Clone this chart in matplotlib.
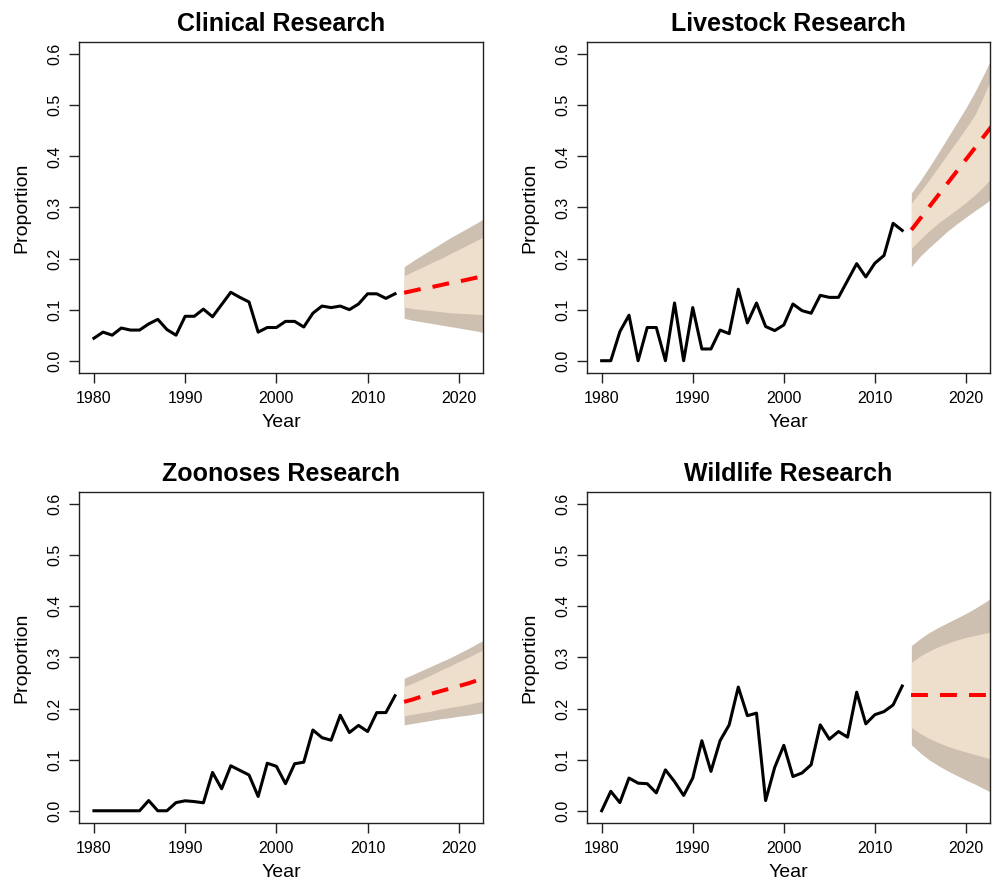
import numpy as np
import matplotlib
matplotlib.use("Agg")
import matplotlib.pyplot as plt

plt.rcParams['font.family'] = ['Liberation Sans', 'DejaVu Sans']

# anos observados e anos da previsao
anos = list(range(1980, 2014))
anos_prev = list(range(2014, 2024))

# --- valores observados (proporcao) ---
clinical = [0.044, 0.056, 0.050, 0.064, 0.060, 0.060, 0.072, 0.081, 0.061, 0.050,
            0.087, 0.087, 0.101, 0.086, 0.110, 0.134, 0.124, 0.115, 0.056, 0.065,
            0.065, 0.077, 0.077, 0.066, 0.093, 0.107, 0.104, 0.107, 0.100, 0.111,
            0.131, 0.131, 0.122, 0.131]
livestock = [0.000, 0.000, 0.057, 0.089, 0.000, 0.065, 0.065, 0.000, 0.113, 0.000,
             0.104, 0.023, 0.023, 0.060, 0.053, 0.140, 0.074, 0.113, 0.067, 0.059,
             0.070, 0.111, 0.098, 0.093, 0.128, 0.124, 0.124, 0.157, 0.190, 0.164,
             0.191, 0.206, 0.269, 0.255]
zoonoses = [0.000, 0.000, 0.000, 0.000, 0.000, 0.000, 0.020, 0.000, 0.000, 0.016,
            0.0195, 0.018, 0.0156, 0.075, 0.043, 0.088, 0.079, 0.070, 0.028, 0.093,
            0.087, 0.053, 0.092, 0.095, 0.158, 0.143, 0.138, 0.187, 0.153, 0.167,
            0.155, 0.192, 0.192, 0.225]
wildlife = [0.000, 0.038, 0.016, 0.064, 0.054, 0.053, 0.035, 0.080, 0.057, 0.030,
            0.064, 0.137, 0.077, 0.137, 0.168, 0.242, 0.186, 0.191, 0.020, 0.085,
            0.128, 0.067, 0.074, 0.090, 0.168, 0.140, 0.155, 0.144, 0.232, 0.170,
            0.188, 0.194, 0.207, 0.244]

# --- previsoes: media, intervalos 80% e 95% ---
clinical_media = [0.133, 0.137, 0.141, 0.144, 0.148, 0.152, 0.155, 0.159, 0.163, 0.167]
clinical_hi95 = [0.184, 0.196, 0.207, 0.218, 0.229, 0.240, 0.250, 0.260, 0.270, 0.281]
clinical_hi80 = [0.166, 0.175, 0.183, 0.192, 0.200, 0.209, 0.218, 0.227, 0.236, 0.245]
clinical_lo80 = [0.105, 0.102, 0.100, 0.098, 0.096, 0.094, 0.093, 0.092, 0.091, 0.090]
clinical_lo95 = [0.083, 0.079, 0.076, 0.073, 0.070, 0.067, 0.064, 0.061, 0.058, 0.054]

livestock_media = [0.256, 0.279, 0.302, 0.325, 0.348, 0.371, 0.394, 0.417, 0.440, 0.463]
livestock_hi95 = [0.328, 0.353, 0.380, 0.408, 0.437, 0.466, 0.495, 0.527, 0.562, 0.600]
livestock_hi80 = [0.308, 0.331, 0.355, 0.380, 0.405, 0.430, 0.455, 0.482, 0.520, 0.562]
livestock_lo80 = [0.220, 0.238, 0.255, 0.270, 0.283, 0.296, 0.310, 0.325, 0.342, 0.362]
livestock_lo95 = [0.184, 0.205, 0.222, 0.238, 0.254, 0.268, 0.281, 0.294, 0.306, 0.320]

zoonoses_media = [0.213, 0.218, 0.224, 0.229, 0.234, 0.239, 0.244, 0.249, 0.255, 0.260]
zoonoses_hi95 = [0.259, 0.267, 0.275, 0.283, 0.291, 0.299, 0.308, 0.317, 0.327, 0.336]
zoonoses_hi80 = [0.243, 0.250, 0.258, 0.266, 0.275, 0.283, 0.292, 0.300, 0.309, 0.317]
zoonoses_lo80 = [0.186, 0.189, 0.192, 0.195, 0.199, 0.202, 0.205, 0.208, 0.212, 0.215]
zoonoses_lo95 = [0.168, 0.171, 0.174, 0.177, 0.180, 0.182, 0.185, 0.187, 0.190, 0.192]

wildlife_media = [0.227, 0.227, 0.227, 0.227, 0.227, 0.227, 0.227, 0.227, 0.227, 0.227]
wildlife_hi95 = [0.323, 0.337, 0.349, 0.359, 0.368, 0.377, 0.386, 0.396, 0.407, 0.419]
wildlife_hi80 = [0.290, 0.303, 0.313, 0.321, 0.328, 0.334, 0.339, 0.343, 0.347, 0.351]
wildlife_lo80 = [0.163, 0.151, 0.141, 0.133, 0.126, 0.120, 0.115, 0.110, 0.105, 0.100]
wildlife_lo95 = [0.129, 0.113, 0.099, 0.088, 0.078, 0.069, 0.060, 0.052, 0.043, 0.034]

titulos = ["Clinical Research", "Livestock Research", "Zoonoses Research", "Wildlife Research"]
xticks = [1980, 1990, 2000, 2010, 2020]
yticks = [0.0, 0.1, 0.2, 0.3, 0.4, 0.5, 0.6]

paineis = [
    (clinical, clinical_media, clinical_lo80, clinical_hi80, clinical_lo95, clinical_hi95),
    (livestock, livestock_media, livestock_lo80, livestock_hi80, livestock_lo95, livestock_hi95),
    (zoonoses, zoonoses_media, zoonoses_lo80, zoonoses_hi80, zoonoses_lo95, zoonoses_hi95),
    (wildlife, wildlife_media, wildlife_lo80, wildlife_hi80, wildlife_lo95, wildlife_hi95),
]

# posicoes dos eixos [esq, baixo, larg, alt]
posicoes = [
    [0.0792, 0.5776, 0.4052, 0.3749],
    [0.5885, 0.5776, 0.4045, 0.3749],
    [0.0792, 0.0679, 0.4052, 0.3752],
    [0.5885, 0.0679, 0.4045, 0.3752],
]

fig = plt.figure(figsize=(9.97, 8.83), dpi=100)

for titulo, pos, (obs, media, lo80, hi80, lo95, hi95) in zip(titulos, posicoes, paineis):
    ax = fig.add_axes(pos)
    ax.fill_between(anos_prev, lo95, hi95, color="#CEC0B0", linewidth=0)
    ax.fill_between(anos_prev, lo80, hi80, color="#EEDFCC", linewidth=0)
    ax.plot(anos, obs, color="black", linewidth=2.2)
    ax.plot(anos_prev, media, color="#FF0000", linewidth=2.9, dashes=(4.2, 3.0))

    ax.set_xlim(1978.36, 2022.64)
    ax.set_ylim(-0.024, 0.624)
    ax.set_xticks(xticks)
    ax.set_yticks(yticks)
    ax.set_yticklabels([f"{v:.1f}" for v in yticks])
    ax.tick_params(axis="both", length=7, width=1.0, labelsize=11.5, color="#222222")
    ax.tick_params(axis="x", pad=6)
    ax.tick_params(axis="y", pad=5, labelrotation=90)
    for lab in ax.get_yticklabels():
        lab.set_verticalalignment("center")
    for sp in ax.spines.values():
        sp.set_linewidth(1.0)
        sp.set_color("#222222")

    ax.set_title(titulo, fontsize=18, fontweight="bold", pad=8)
    ax.set_xlabel("Year", fontsize=14)
    ax.set_ylabel("Proportion", fontsize=14)
    ax.xaxis.set_label_coords(0.5, -0.125)
    ax.yaxis.set_label_coords(-0.12, 0.5)

fig.savefig("out.png", dpi=100)
